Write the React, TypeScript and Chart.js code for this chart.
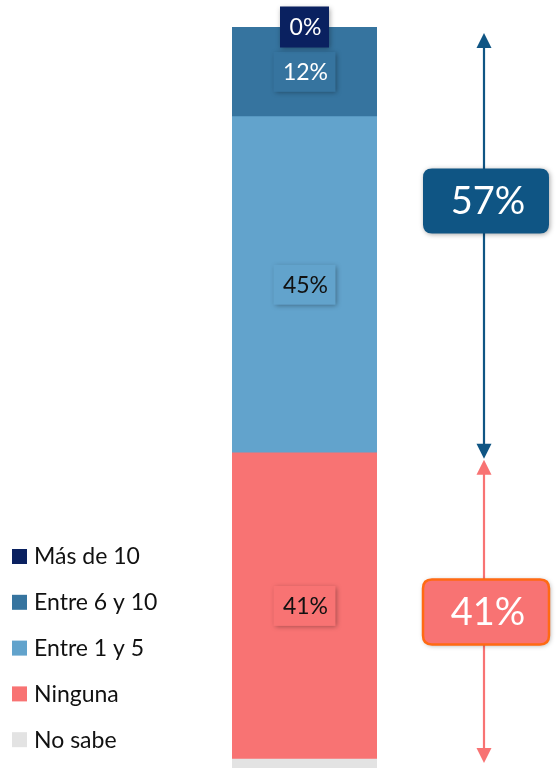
import React, { useEffect, useRef } from "react";
import { Chart, registerables } from "chart.js";

Chart.register(...registerables);

const categories = ["Total"];
const seriesLabels = ["No sabe", "Ninguna", "Entre 1 y 5", "Entre 6 y 10", "Más de 10"];
const noSabe = [2];
const ninguna = [41];
const entre1y5 = [45];
const entre6y10 = [12];
const masDe10 = [0];
const segmentLabels = ["", "41%", "45%", "12%", "0%"];
const seriesColors = ["#e3e3e3", "#f87373", "#62a3cc", "#36749f", "#0a2160"];
const labelTextColors = ["#111111", "#111111", "#111111", "#ffffff", "#ffffff"];
const summaryTop = entre1y5[0] + entre6y10[0] + masDe10[0];
const summaryBottom = ninguna[0];
const summaryLabels = [summaryTop + "%", summaryBottom + "%"];

const FONT = "Lato, 'Open Sans', sans-serif";

function roundRect(ctx: CanvasRenderingContext2D, x: number, y: number, w: number, h: number, r: number) {
  ctx.beginPath();
  ctx.moveTo(x + r, y);
  ctx.lineTo(x + w - r, y);
  ctx.quadraticCurveTo(x + w, y, x + w, y + r);
  ctx.lineTo(x + w, y + h - r);
  ctx.quadraticCurveTo(x + w, y + h, x + w - r, y + h);
  ctx.lineTo(x + r, y + h);
  ctx.quadraticCurveTo(x, y + h, x, y + h - r);
  ctx.lineTo(x, y + r);
  ctx.quadraticCurveTo(x, y, x + r, y);
  ctx.closePath();
}

function arrow(ctx: CanvasRenderingContext2D, x: number, yTop: number, yBot: number, color: string) {
  const hw = 7.5, hh = 15;
  ctx.save();
  ctx.strokeStyle = color;
  ctx.fillStyle = color;
  ctx.lineWidth = 2.2;
  ctx.beginPath();
  ctx.moveTo(x, yTop + hh - 1);
  ctx.lineTo(x, yBot - hh + 1);
  ctx.stroke();
  ctx.beginPath();
  ctx.moveTo(x, yTop);
  ctx.lineTo(x - hw, yTop + hh);
  ctx.lineTo(x + hw, yTop + hh);
  ctx.closePath();
  ctx.fill();
  ctx.beginPath();
  ctx.moveTo(x, yBot);
  ctx.lineTo(x - hw, yBot - hh);
  ctx.lineTo(x + hw, yBot - hh);
  ctx.closePath();
  ctx.fill();
  ctx.restore();
}

const overlayPlugin = {
  id: "overlay",
  afterDatasetsDraw(chart: any) {
    const ctx: CanvasRenderingContext2D = chart.ctx;
    const y = chart.scales.y;
    const meta0 = chart.getDatasetMeta(0);
    const barX = meta0.data[0].x;

    // segment labels
    let cum = 0;
    chart.data.datasets.forEach((ds: any, i: number) => {
      const v = ds.data[0];
      const mid = cum + v / 2;
      cum += v;
      const text = segmentLabels[i];
      if (!text) return;
      const cy = y.getPixelForValue(mid);
      const w = text.length < 3 ? 49 : 62;
      const h = i === 4 ? 41 : 40;
      ctx.save();
      ctx.shadowColor = "rgba(0,0,0,0.35)";
      ctx.shadowBlur = 5;
      ctx.shadowOffsetX = 1;
      ctx.shadowOffsetY = 1;
      ctx.fillStyle = ds.backgroundColor;
      ctx.fillRect(barX - w / 2, cy - h / 2, w, h);
      ctx.restore();
      ctx.save();
      ctx.fillStyle = labelTextColors[i];
      ctx.font = "23px " + FONT;
      ctx.textAlign = "center";
      ctx.textBaseline = "middle";
      ctx.fillText(text, barX + 1, cy + 1);
      ctx.restore();
    });

    // arrows
    const ax = 484;
    const split = y.getPixelForValue(noSabe[0] + ninguna[0]);
    arrow(ctx, ax, y.getPixelForValue(100) + 6, split + 6, "#0f5584");
    arrow(ctx, ax, split + 7, y.getPixelForValue(0) - 11, "#f87373");

    // summary boxes
    const boxes = [
      { cy: y.getPixelForValue(76.7), fill: "#0f5584", border: null as string | null, text: summaryLabels[0] },
      { cy: y.getPixelForValue(21.7), fill: "#f87373", border: "#ff6a13", text: summaryLabels[1] },
    ];
    boxes.forEach((b) => {
      const bw = 126, bh = 65;
      const bx = ax - 61;
      ctx.save();
      ctx.shadowColor = "rgba(0,0,0,0.35)";
      ctx.shadowBlur = 5;
      ctx.shadowOffsetX = 1;
      ctx.shadowOffsetY = 1;
      roundRect(ctx, bx, b.cy - bh / 2, bw, bh, 9);
      ctx.fillStyle = b.fill;
      ctx.fill();
      ctx.restore();
      if (b.border) {
        ctx.save();
        roundRect(ctx, bx, b.cy - bh / 2, bw, bh, 9);
        ctx.strokeStyle = b.border;
        ctx.lineWidth = 2.5;
        ctx.stroke();
        ctx.restore();
      }
      ctx.save();
      ctx.fillStyle = "#ffffff";
      ctx.font = "38px " + FONT;
      ctx.textAlign = "center";
      ctx.textBaseline = "middle";
      ctx.fillText(b.text, bx + bw / 2 + 2, b.cy + 1);
      ctx.restore();
    });

    // legend
    const n = chart.data.datasets.length;
    for (let k = 0; k < n; k++) {
      const idx = n - 1 - k;
      const ds = chart.data.datasets[idx];
      const cy = 556 + k * 45.8;
      ctx.save();
      ctx.fillStyle = ds.backgroundColor;
      ctx.fillRect(12, cy - 7, 15, 15);
      ctx.fillStyle = "#111111";
      ctx.font = "23px " + FONT;
      ctx.textAlign = "left";
      ctx.textBaseline = "middle";
      ctx.fillText(ds.label, 34, cy + 1);
      ctx.restore();
    }
  },
};

export default function App() {
  const ref = useRef<HTMLCanvasElement>(null);
  useEffect(() => {
    if (!ref.current) return;
    const series = [noSabe, ninguna, entre1y5, entre6y10, masDe10];
    const chart = new Chart(ref.current, {
      type: "bar",
      data: {
        labels: categories,
        datasets: series.map((d, i) => ({
          label: seriesLabels[i],
          data: d,
          backgroundColor: seriesColors[i],
          borderWidth: 0,
          barPercentage: 1,
          categoryPercentage: 1,
        })),
      },
      options: {
        responsive: false,
        animation: false,
        layout: { padding: { left: 232, right: 179, top: 27, bottom: 0 } },
        scales: {
          x: { stacked: true, display: false },
          y: { stacked: true, display: false, min: 0.8, max: 100 },
        },
        plugins: { legend: { display: false }, tooltip: { enabled: false } },
      },
      plugins: [overlayPlugin],
    });
    return () => chart.destroy();
  }, []);
  return (
    <div style={{ position: "fixed", left: 0, top: 0, width: 556, height: 768, background: "#fff" }}>
      <canvas ref={ref} width={556} height={768} style={{ display: "block" }} />
    </div>
  );
}
